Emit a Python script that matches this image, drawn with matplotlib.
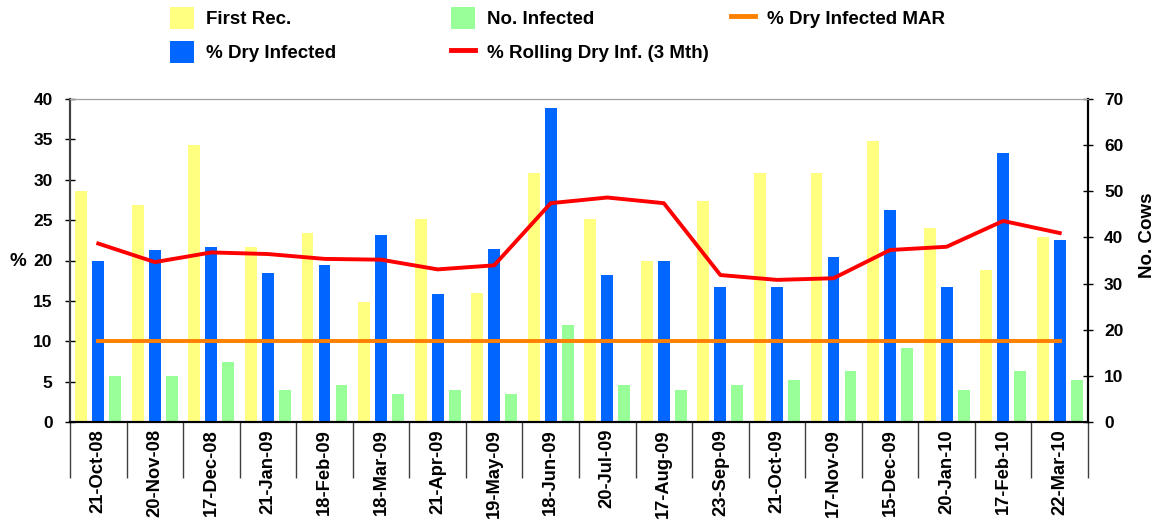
import matplotlib
matplotlib.use('Agg')
import matplotlib.pyplot as plt
from matplotlib.patches import Patch
from matplotlib.lines import Line2D
import numpy as np

plt.rcParams['font.family'] = ['Liberation Sans', 'DejaVu Sans']
plt.rcParams['font.weight'] = 'bold'

dates = ['21-Oct-08', '20-Nov-08', '17-Dec-08', '21-Jan-09', '18-Feb-09', '18-Mar-09',
         '21-Apr-09', '19-May-09', '18-Jun-09', '20-Jul-09', '17-Aug-09', '23-Sep-09',
         '21-Oct-09', '17-Nov-09', '15-Dec-09', '20-Jan-10', '17-Feb-10', '22-Mar-10']
first_rec = [50, 47, 60, 38, 41, 26, 44, 28, 54, 44, 35, 48, 54, 54, 61, 42, 33, 40]
no_infected = [10, 10, 13, 7, 8, 6, 7, 6, 21, 8, 7, 8, 9, 11, 16, 7, 11, 9]
pct_dry_inf = [20.0, 21.3, 21.7, 18.4, 19.5, 23.1, 15.9, 21.4, 38.9, 18.2, 20.0, 16.7,
               16.7, 20.4, 26.2, 16.7, 33.3, 22.5]
pct_rolling = [22.1, 19.8, 21.0, 20.8, 20.2, 20.1, 18.9, 19.4, 27.1, 27.8, 27.1, 18.2,
               17.6, 17.8, 21.3, 21.7, 24.9, 23.4]
pct_mar = [10] * 18

YELLOW = '#FFFF80'
BLUE = '#0066FF'
GREEN = '#99FF99'
ORANGE = '#FF8000'
RED = '#FF0000'

x = np.arange(len(dates))
w = 0.21

fig = plt.figure(figsize=(11.55, 5.24), dpi=100)
ax = fig.add_axes([70/1155, 1 - 422/524, (1088 - 70)/1155, (422 - 99)/524])  # cows axis (right)
ax2 = ax.twinx()  # % axis (left), on top so lines sit over the bars

ax.bar(x - 0.3, first_rec, w, color=YELLOW, label='First Rec.')
ax.bar(x + 0.3, no_infected, w, color=GREEN, label='No. Infected')
ax2.bar(x, pct_dry_inf, w, color=BLUE, label='% Dry Infected')
ax2.plot(x, pct_rolling, color=RED, lw=2.8, label='% Rolling Dry Inf. (3 Mth)')
ax2.plot(x, pct_mar, color=ORANGE, lw=2.8, label='% Dry Infected MAR')

ax.set_xlim(-0.5, len(dates) - 0.5)
ax.set_ylim(0, 70)
ax2.set_ylim(0, 40)
ax.set_yticks(range(0, 71, 10))
ax2.set_yticks(range(0, 41, 5))

# swap sides: cows on the right, % on the left
ax.yaxis.tick_right()
ax2.yaxis.tick_left()
ax.tick_params(axis='y', direction='inout', length=7, width=1, labelsize=12.5, pad=8)
ax2.tick_params(axis='y', direction='inout', length=7, width=1, labelsize=12.5, pad=9)

# category separators as long ticks, labels at centres
ax.set_xticks(np.arange(-0.5, len(dates), 1.0))
ax.set_xticklabels([])
ax.tick_params(axis='x', which='major', direction='out', length=40, width=1, color='#404040')
ax.set_xticks(x, minor=True)
ax.set_xticklabels(dates, minor=True, rotation=90, fontsize=13.2, fontweight='bold')
ax.tick_params(axis='x', which='minor', length=0, pad=5)

for a in (ax, ax2):
    a.spines['top'].set_color('#A0A0A0')
    a.spines['left'].set_color('#404040')
    a.spines['left'].set_linewidth(1.5)
    a.spines['right'].set_linewidth(1.5)
    a.spines['bottom'].set_linewidth(1.5)

fig.text(10/1155, 1 - 262/524, '%', fontsize=13.5, fontweight='bold', va='center', ha='left')
fig.text(1147/1155, 1 - 235/524, 'No. Cows', fontsize=13.5, fontweight='bold',
         rotation=90, va='center', ha='center')

leg_kw = dict(frameon=False, loc='upper left', fontsize=13.5, handlelength=1.28,
              handleheight=1.45, handletextpad=0.65, labelspacing=0.62, borderpad=0,
              borderaxespad=0)
col1 = [Patch(facecolor=YELLOW), Patch(facecolor=BLUE)]
col2 = [Patch(facecolor=GREEN), Line2D([], [], color=RED, lw=3.5)]
col3 = [Line2D([], [], color=ORANGE, lw=3.5)]
l1 = fig.legend(col1, ['First Rec.', '% Dry Infected'],
                bbox_to_anchor=(170/1155, 1 - 7/524), **leg_kw)
l2 = fig.legend(col2, ['No. Infected', '% Rolling Dry Inf. (3 Mth)'],
                bbox_to_anchor=(451/1155, 1 - 7/524), **leg_kw)
l3 = fig.legend(col3, ['% Dry Infected MAR'],
                bbox_to_anchor=(731/1155, 1 - 7/524), **leg_kw)

fig.savefig('out.png', dpi=100)
